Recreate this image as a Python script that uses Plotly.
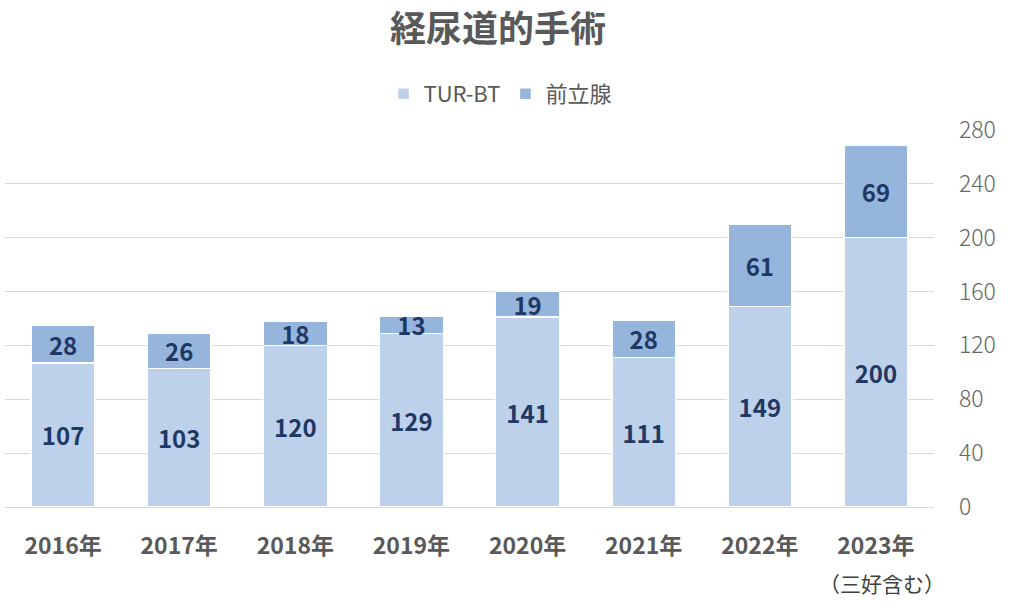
import plotly.graph_objects as go

years = ["2016年", "2017年", "2018年", "2019年", "2020年", "2021年", "2022年", "2023年"]
turbt = [107, 103, 120, 129, 141, 111, 149, 200]
prostate = [28, 26, 18, 13, 19, 28, 61, 69]
y_ticks = [0, 40, 80, 120, 160, 200, 240, 280]

FONT = "Noto Sans CJK JP"
GRAY = "#595959"
NAVY = "#1F3864"

fig = go.Figure()
fig.add_trace(go.Bar(
    x=years, y=turbt, name="TUR-BT",
    marker=dict(color="#BDD1EA", line=dict(color="white", width=1.5)),
    text=turbt, textposition="inside", insidetextanchor="middle", textangle=0,
    constraintext="none",
    textfont=dict(family=FONT, size=24, color=NAVY, weight="bold"),
))
fig.add_trace(go.Bar(
    x=years, y=prostate, name="前立腺",
    marker=dict(color="#95B5DD", line=dict(color="white", width=1.5)),
    text=prostate, textposition="inside", insidetextanchor="middle", textangle=0,
    constraintext="none",
    textfont=dict(family=FONT, size=24, color=NAVY, weight="bold"),
))

fig.update_layout(
    barmode="stack",
    bargap=0.45,
    width=1022, height=616,
    margin=dict(l=5, r=88, t=130, b=109, autoexpand=False),
    paper_bgcolor="white", plot_bgcolor="white",
    font=dict(family=FONT, color=GRAY),
    title=dict(text="<b>経尿道的手術</b>", x=498 / 1022, xanchor="center", xref="container",
               y=1 - 29 / 616, yanchor="middle", yref="container",
               font=dict(size=36, color=GRAY, family=FONT)),
    legend=dict(orientation="h", x=500 / 1022, xanchor="center", xref="container",
                y=1 - 94 / 616, yanchor="middle", yref="container",
                font=dict(size=22, color=GRAY, family=FONT),
                traceorder="normal", itemwidth=30),
    showlegend=True,
    uniformtext=dict(mode=False),
)
fig.update_xaxes(
    range=[-0.5, len(years) - 0.5],
    showgrid=False, showline=True, linecolor="#D9D9D9", linewidth=1,
    tickfont=dict(size=23, color=GRAY, family=FONT, weight="bold"),
    ticks="", ticklabelstandoff=18, automargin=False,
)
fig.update_yaxes(
    side="right", range=[0, 280], tickvals=y_ticks,
    showgrid=True, gridcolor="#D9D9D9", gridwidth=1, zeroline=False,
    tickfont=dict(size=23, color="#666666", family=FONT, weight=300),
    ticks="", ticklabelstandoff=24, automargin=False,
)
fig.add_annotation(
    text="（三好含む）", x=years[-1], xref="x", y=-0.2016, yref="paper",
    yanchor="middle", showarrow=False, xshift=6,
    font=dict(size=21, color="#404040", family=FONT),
)

fig.write_html("out.html", post_script="document.body.style.margin='0';",
               config={"displayModeBar": False})
